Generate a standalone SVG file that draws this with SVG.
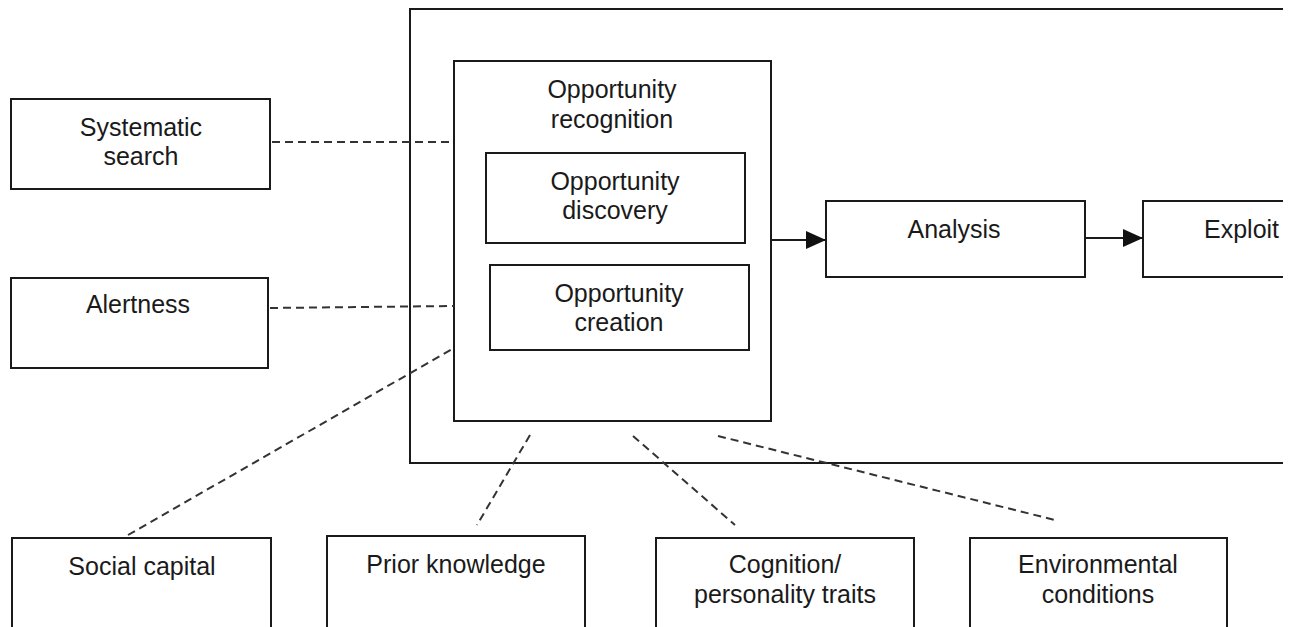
<svg xmlns="http://www.w3.org/2000/svg" width="1300" height="627" viewBox="0 0 1300 627">
<defs>
<style>
.box{fill:#fff;stroke:#1a1a1a;stroke-width:2}
.frame{fill:none;stroke:#1a1a1a;stroke-width:2}
.t{font-family:"Liberation Sans",Arial,sans-serif;font-size:25px;fill:#1a1a1a;text-anchor:middle}
.dash{fill:none;stroke:#333;stroke-width:2;stroke-dasharray:8 5}
.arr{fill:none;stroke:#1a1a1a;stroke-width:2}
</style>
<marker id="ah" markerWidth="20" markerHeight="18" refX="20" refY="9" orient="auto" markerUnits="userSpaceOnUse">
<path d="M0,0 L20,9 L0,18 Z" fill="#111"/>
</marker>
<clipPath id="cut"><rect x="0" y="0" width="1283" height="627"/></clipPath>
</defs>
<rect width="1300" height="627" fill="#fff"/>
<g clip-path="url(#cut)">
<g id="outer"><rect class="frame" x="410" y="9" width="900" height="454"/></g>
<g id="recognition"><rect class="box" x="454" y="61" width="317" height="360"/>
<text class="t" x="612" y="98">Opportunity</text><text class="t" x="612" y="128">recognition</text></g>
<g id="discovery"><rect class="box" x="486" y="153" width="259" height="90"/>
<text class="t" x="615" y="190">Opportunity</text><text class="t" x="615" y="219">discovery</text></g>
<g id="creation"><rect class="box" x="490" y="265" width="259" height="85"/>
<text class="t" x="619" y="302">Opportunity</text><text class="t" x="619" y="331">creation</text></g>
<g id="systematic"><rect class="box" x="11" y="99" width="259" height="90"/>
<text class="t" x="141" y="136">Systematic</text><text class="t" x="141" y="165">search</text></g>
<g id="alertness"><rect class="box" x="11" y="278" width="257" height="90"/>
<text class="t" x="138" y="313">Alertness</text></g>
<g id="analysis"><rect class="box" x="826" y="201" width="259" height="76"/>
<text class="t" x="954" y="238">Analysis</text></g>
<g id="exploit"><rect class="box" x="1143" y="201" width="200" height="76"/>
<text class="t" x="1204" y="238" style="text-anchor:start">Exploit</text></g>
<g id="social"><rect class="box" x="12" y="538" width="259" height="100"/>
<text class="t" x="142" y="575">Social capital</text></g>
<g id="prior"><rect class="box" x="327" y="536" width="258" height="100"/>
<text class="t" x="456" y="573">Prior knowledge</text></g>
<g id="cognition"><rect class="box" x="656" y="538" width="258" height="100"/>
<text class="t" x="785" y="573">Cognition/</text><text class="t" x="785" y="603">personality traits</text></g>
<g id="environmental"><rect class="box" x="970" y="538" width="257" height="100"/>
<text class="t" x="1098" y="573">Environmental</text><text class="t" x="1098" y="603">conditions</text></g>
<g id="connectors">
<line class="dash" x1="272" y1="142" x2="454" y2="142"/>
<line class="dash" x1="270" y1="308" x2="454" y2="306"/>
<line class="dash" x1="128" y1="535" x2="454" y2="348"/>
<line class="dash" x1="530" y1="435" x2="477" y2="525"/>
<line class="dash" x1="633" y1="436" x2="735" y2="525"/>
<line class="dash" x1="718" y1="436" x2="1055" y2="520"/>
<line class="arr" x1="772" y1="240" x2="826" y2="240" marker-end="url(#ah)"/>
<line class="arr" x1="1086" y1="238" x2="1143" y2="238" marker-end="url(#ah)"/>
</g>
</g>
</svg>
